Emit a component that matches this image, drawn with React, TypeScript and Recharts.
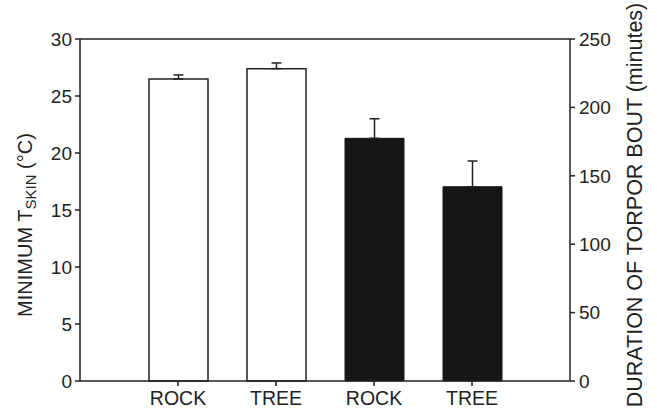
import { BarChart, Bar, XAxis, YAxis, ErrorBar } from "recharts";

const categories = ["ROCK", "TREE", "ROCK", "TREE"];
// minimum skin temperature (left axis, °C), white bars
const tempValues = [26.5, 27.4, null, null];
const tempErrors = [0.35, 0.5, null, null];
// torpor bout duration (right axis, minutes), black bars
const durValues = [null, null, 177.4, 142];
const durErrors = [null, null, 14.3, 18.8];
const leftTicks = [0, 5, 10, 15, 20, 25, 30];
const rightTicks = [0, 50, 100, 150, 200, 250];

const data = categories.map((name, i) => ({
  id: i,
  name,
  temp: tempValues[i],
  tempErr: tempErrors[i] != null ? [0, tempErrors[i]] : undefined,
  dur: durValues[i],
  durErr: durErrors[i] != null ? [0, durErrors[i]] : undefined,
}));

const FONT = '"Liberation Sans", Arial, sans-serif';
const INK = "#222";

const LeftLabel = () => {
  const x = 32;
  const y = 225;
  return (
    <text
      x={x}
      y={y}
      transform={`rotate(-90, ${x}, ${y})`}
      textAnchor="middle"
      fontFamily={FONT}
      fontSize={20}
      fill={INK}
    >
      <tspan>MINIMUM T</tspan>
      <tspan fontSize={15} dy={4}>SKIN</tspan>
      <tspan dy={-4}> (°C)</tspan>
    </text>
  );
};

const RightLabel = () => {
  const x = 642;
  const y = 205;
  return (
    <text
      x={x}
      y={y}
      transform={`rotate(-90, ${x}, ${y})`}
      textAnchor="middle"
      fontFamily={FONT}
      fontSize={21.5}
      fill={INK}
    >
      DURATION OF TORPOR BOUT (minutes)
    </text>
  );
};

const tickStyle = { fill: INK, fontSize: 19, fontFamily: FONT };

export default function App() {
  return (
    <div style={{ position: "absolute", left: 0, top: 0, background: "#fff" }}>
      <BarChart
        width={657}
        height={413}
        data={data}
        margin={{ top: 38, right: 0, left: 0, bottom: 0 }}
      >
        <XAxis
          xAxisId="main"
          dataKey="id"
          tickFormatter={(v) => categories[v]}
          padding={{ left: 49, right: 49 }}
          height={32}
          tickSize={5}
          tickMargin={5}
          tick={{ ...tickStyle, fontSize: 19.5 }}
          stroke={INK}
          strokeWidth={1.5}
        />
        <XAxis
          xAxisId="alt"
          dataKey="id"
          orientation="top"
          padding={{ left: 49, right: 49 }}
          height={1}
          tick={false}
          tickLine={false}
          stroke={INK}
          strokeWidth={1.5}
        />
        <YAxis
          yAxisId="left"
          domain={[0, 30]}
          ticks={leftTicks}
          width={80}
          tickSize={5}
          tickMargin={3}
          tick={tickStyle}
          stroke={INK}
          strokeWidth={1.5}
          label={<LeftLabel />}
        />
        <YAxis
          yAxisId="right"
          orientation="right"
          domain={[0, 250]}
          ticks={rightTicks}
          width={87}
          tickSize={5}
          tickMargin={4}
          tick={tickStyle}
          stroke={INK}
          strokeWidth={1.5}
          label={<RightLabel />}
        />
        <Bar
          xAxisId="main"
          yAxisId="left"
          dataKey="temp"
          fill="#ffffff"
          stroke={INK}
          strokeWidth={1.5}
          barSize={59}
          isAnimationActive={false}
        >
          <ErrorBar dataKey="tempErr" direction="y" width={5} stroke={INK} strokeWidth={1.5} />
        </Bar>
        <Bar
          xAxisId="alt"
          yAxisId="right"
          dataKey="dur"
          fill="#161616"
          stroke="#161616"
          strokeWidth={1}
          barSize={59}
          isAnimationActive={false}
        >
          <ErrorBar dataKey="durErr" direction="y" width={5} stroke={INK} strokeWidth={1.5} />
        </Bar>
      </BarChart>
    </div>
  );
}
